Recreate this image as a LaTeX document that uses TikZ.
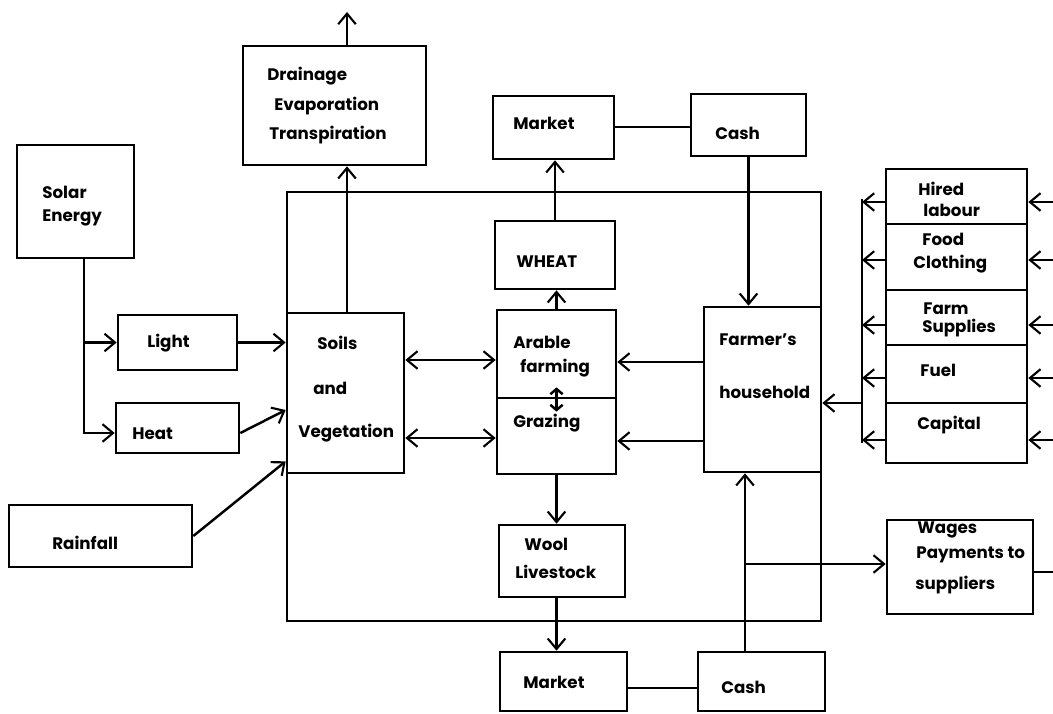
\documentclass[tikz,border=0pt]{standalone}
\usepackage{fontspec}
\setmainfont{Poppins}
\usetikzlibrary{arrows.meta,fit,calc}

\begin{document}
\begin{tikzpicture}[x=0.02cm,y=-0.02cm,
    box/.style={rectangle,draw=black,line width=1.5pt,inner sep=0pt},
    txt/.style={anchor=west,inner sep=0pt,font=\fontsize{9.5}{11}\selectfont\bfseries},
    link/.style={line width=1.4pt},
    flow/.style={link,-{Straight Barb[length=6pt,width=10pt,line width=1.2pt]}},
    both/.style={link,{Straight Barb[length=6pt,width=10pt,line width=1.2pt]}-{Straight Barb[length=6pt,width=10pt,line width=1.2pt]}},
    small/.style={link,{Straight Barb[length=3pt,width=7pt]}-{Straight Barb[length=3pt,width=7pt]}}]
    \useasboundingbox (0,0) rectangle (1053,713);
    % boxes
    \node[box,fit={(17,145) (134,258)}] (solar) {};
    \node[box,fit={(118,315) (237,370)}] (light) {};
    \node[box,fit={(116,403) (239,453)}] (heat) {};
    \node[box,fit={(9,505) (192,567)}] (rain) {};
    \node[box,fit={(287,313) (404,473)}] (soils) {};
    \node[box,fit={(243,46) (426,165)}] (drain) {};
    \node[box,fit={(287,192) (821,621)}] (farm) {};
    \node[box,fit={(493,96) (614,159)}] (mkttop) {};
    \node[box,fit={(691,94) (806,156)}] (cashtop) {};
    \node[box,fit={(495,221) (615,289)}] (wheat) {};
    \node[box,fit={(497,310) (616,398)}] (arable) {};
    \node[box,fit={(497,398) (616,474)}] (grazing) {};
    \node[box,fit={(704,307) (821,472)}] (house) {};
    \node[box,fit={(499,525) (625,597)}] (wool) {};
    \node[box,fit={(500,652) (627,711)}] (mktbot) {};
    \node[box,fit={(698,652) (825,711)}] (cashbot) {};
    \node[box,fit={(886,169) (1027,224)}] (hired) {};
    \node[box,fit={(886,224) (1027,290)}] (food) {};
    \node[box,fit={(886,290) (1027,345)}] (supplies) {};
    \node[box,fit={(886,345) (1027,403)}] (fuel) {};
    \node[box,fit={(886,403) (1027,463)}] (capital) {};
    \node[box,fit={(887,520) (1033,614)}] (wages) {};
    % texts
    \foreach \n/\x/\y/\t in {solar-a/42/192/Solar, solar-b/42/218/Energy,
        light-t/147/343/Light, heat-t/132/434/Heat, rain-t/52/543/Rainfall,
        soils-a/317/343/Soils, soils-b/313/388/and, soils-c/298/433/Vegetation,
        drain-a/267/76/Drainage, drain-b/274/106/Evaporation, drain-c/269/135/Transpiration,
        mkttop-t/513/123/Market, cashtop-t/715/133/Cash, wheat-t/516/262/WHEAT,
        arable-a/513/342/Arable, arable-b/520/368/farming, grazing-t/513/423/Grazing,
        house-a/719/340/Farmer's, house-b/719/392/household,
        wool-a/524/544/Wool, wool-b/515/572/Livestock,
        mktbot-t/523/682/Market, cashbot-t/721/687/Cash,
        hired-a/918/189/Hired, hired-b/923/210/labour,
        food-a/922/239/Food, food-b/913/264/Clothing,
        supplies-a/923/309/Farm, supplies-b/922/328/Supplies,
        fuel-t/920/370/Fuel, capital-t/917/425/Capital,
        wages-a/917/530/Wages, wages-b/916/555/Payments to, wages-c/915/585/suppliers}
        \node[txt] (\n) at (\x,\y) {\t};
    % connectors
    \coordinate (sbus) at (84,0);
    \coordinate (vent) at (347,12);
    \coordinate (hx) at (745,0);
    \coordinate (hbus) at (862,0);
    \coordinate (edge) at (1053,0);
    \draw[flow] (sbus |- solar.south) |- ($(heat.west)+(0,5)$);
    \draw[flow] (sbus |- light.west) -- (light.west);
    \draw[flow] (light.east) -- (soils.west |- light.east);
    \draw[flow] ($(heat.east)+(0,5)$) -- ($(soils.west)+(0,17)$);
    \draw[flow] (rain.east) -- ($(soils.south west)+(0,-13)$);
    \draw[flow] (vent |- soils.north) -- (vent |- drain.south);
    \draw[flow] (vent |- drain.north) -- (vent);
    \draw[both] (soils.east |- 0,360) -- (arable.west |- 0,360);
    \draw[both] (soils.east |- 0,438) -- (grazing.west |- 0,438);
    \draw[small] ($(arable.south)+(0,-12)$) -- ($(grazing.north)+(0,15)$);
    \draw[flow] (arable.north) -- (arable.north |- wheat.south);
    \draw[flow] (wheat.north) -- (wheat.north |- mkttop.south);
    \draw[link] (mkttop.east |- 0,127) -- (cashtop.west |- 0,127);
    \draw[flow] (cashtop.south) -- (cashtop.south |- house.north);
    \draw[flow] (house.west |- 0,362) -- (arable.east |- 0,362);
    \draw[flow] (house.west |- 0,441) -- (grazing.east |- 0,441);
    \draw[flow] (grazing.south) -- (grazing.south |- wool.north);
    \draw[flow] (grazing.south |- wool.south) -- (grazing.south |- mktbot.north);
    \draw[link] (mktbot.east |- 0,688) -- (cashbot.west |- 0,688);
    \draw[flow] (hx |- cashbot.north) -- (hx |- house.south);
    \draw[flow] (hx |- 0,564) -- (wages.west |- 0,564);
    \draw[link] (wages.east |- 0,572) -- (edge |- 0,572);
    \foreach \b/\y in {hired/202,food/260,supplies/325,fuel/378,capital/440} {
        \draw[flow] (\b.west |- 0,\y) -- (hbus |- 0,\y);
        \draw[flow] (edge |- 0,\y) -- (\b.east |- 0,\y);
    }
    \draw[link] (hbus |- 0,199) -- (hbus |- 0,443);
    \draw[flow] (hbus |- 0,403) -- (house.east |- 0,403);
\end{tikzpicture}
\end{document}
